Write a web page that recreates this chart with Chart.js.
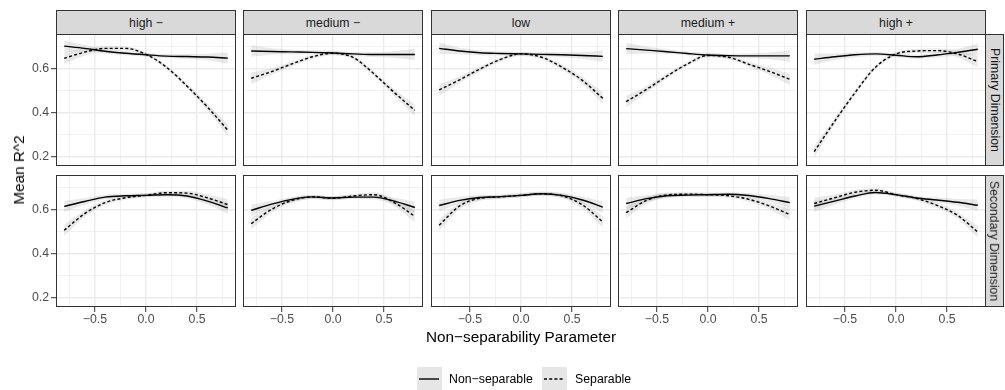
<!DOCTYPE html>
<html>
<head>
<meta charset="utf-8">
<script src="https://cdn.jsdelivr.net/npm/chart.js@4.4.0/dist/chart.umd.min.js"></script>
<style>
  body { margin: 0; background: #fff; font-family: "Liberation Sans", Arial, sans-serif; }
  #wrap { position: relative; width: 1005px; height: 390px; overflow: hidden; }
  canvas { position: absolute; }
  .strip { position: absolute; box-sizing: border-box; border: 1px solid #333; background: #d9d9d9;
           color: #1a1a1a; font-size: 12.3px; display: flex; align-items: center; justify-content: center; }
  .strip-right span { transform: rotate(90deg); white-space: nowrap; }
  .label { position: absolute; white-space: nowrap; color: #000; }
  .key { position: absolute; width: 25px; height: 23px; background: #e6e6e6; }
  .key svg { position: absolute; left: 0; top: 0; }
</style>
</head>
<body>
<div id="wrap"></div>
<script>
// x positions where the smoothed curves are sampled
var xValues = [-0.8, -0.6, -0.4, -0.2, 0.0, 0.2, 0.4, 0.6, 0.8];

var columnLabels = ["high \u2212", "medium \u2212", "low", "medium +", "high +"];
var rowLabels = ["Primary Dimension", "Secondary Dimension"];

// mean R^2, one array per column (high-, medium-, low, medium+, high+)
var primaryNonSeparable = [
    [0.700, 0.690, 0.677, 0.668, 0.661, 0.655, 0.653, 0.651, 0.646],
    [0.678, 0.676, 0.674, 0.672, 0.669, 0.665, 0.662, 0.662, 0.662],
    [0.690, 0.678, 0.670, 0.667, 0.665, 0.663, 0.661, 0.658, 0.654],
    [0.689, 0.682, 0.675, 0.667, 0.660, 0.657, 0.656, 0.656, 0.656],
    [0.641, 0.652, 0.661, 0.665, 0.659, 0.652, 0.660, 0.672, 0.686]
];
var primarySeparable = [
    [0.645, 0.673, 0.690, 0.690, 0.663, 0.605, 0.520, 0.425, 0.320],
    [0.555, 0.585, 0.620, 0.652, 0.668, 0.648, 0.575, 0.490, 0.410],
    [0.502, 0.548, 0.597, 0.640, 0.665, 0.650, 0.605, 0.545, 0.464],
    [0.449, 0.505, 0.565, 0.620, 0.658, 0.650, 0.618, 0.586, 0.550],
    [0.223, 0.360, 0.490, 0.605, 0.665, 0.678, 0.680, 0.665, 0.630]
];
var secondaryNonSeparable = [
    [0.613, 0.635, 0.655, 0.661, 0.663, 0.666, 0.660, 0.637, 0.606],
    [0.595, 0.623, 0.645, 0.656, 0.651, 0.655, 0.655, 0.637, 0.608],
    [0.617, 0.640, 0.653, 0.657, 0.663, 0.670, 0.663, 0.642, 0.610],
    [0.626, 0.648, 0.661, 0.664, 0.666, 0.668, 0.662, 0.648, 0.630],
    [0.614, 0.637, 0.660, 0.676, 0.666, 0.651, 0.642, 0.632, 0.618]
];
var secondarySeparable = [
    [0.505, 0.580, 0.630, 0.652, 0.663, 0.675, 0.673, 0.652, 0.621],
    [0.535, 0.600, 0.640, 0.656, 0.650, 0.660, 0.666, 0.630, 0.568],
    [0.528, 0.615, 0.650, 0.656, 0.663, 0.670, 0.661, 0.620, 0.543],
    [0.585, 0.640, 0.665, 0.668, 0.666, 0.661, 0.645, 0.615, 0.576],
    [0.626, 0.652, 0.677, 0.686, 0.666, 0.649, 0.618, 0.573, 0.497]
];
// half width of the confidence band around each smooth
var bandHalfWidth = [0.026, 0.015, 0.011, 0.009, 0.009, 0.009, 0.011, 0.015, 0.026];

var xTicks = [-0.75, -0.5, -0.25, 0, 0.25, 0.5, 0.75];
var xMajor = [-0.5, 0, 0.5];
var yTicks = [0.2, 0.3, 0.4, 0.5, 0.6, 0.7];
var yMajor = [0.2, 0.4, 0.6];

var xRange = [-0.88, 0.88];
var yRange = [0.158, 0.755];

// panel geometry
var colLeft = [56, 243, 431, 618, 806];
var rowTop = [34, 175];
var panelW = 180, panelH = 132;
var yAxisW = 40, xAxisH = 22;

var wrap = document.getElementById('wrap');
var font = '"Liberation Sans", Arial, sans-serif';
Chart.defaults.font.family = font;

function isIn(list, v) {
    return v !== undefined && list.some(function(m) { return Math.abs(m - v) < 1e-6; });
}
function fmt(v) {
    return v < 0 ? '\u2212' + Math.abs(v).toFixed(1) : v.toFixed(1);
}
function points(arr, offset) {
    return xValues.map(function(x, i) {
        return { x: x, y: arr[i] + (offset ? offset[i] : 0) };
    });
}
function neg(arr) { return arr.map(function(v) { return -v; }); }

// outline of the plotting area
var panelBorder = {
    id: 'panelBorder',
    afterDraw: function(chart) {
        var a = chart.chartArea, ctx = chart.ctx;
        ctx.save();
        ctx.strokeStyle = '#333333';
        ctx.lineWidth = 1;
        ctx.strokeRect(a.left + 0.5, a.top + 0.5, a.right - a.left - 1, a.bottom - a.top - 1);
        ctx.restore();
    }
};

function zeroPadding(scale) {
    scale.paddingTop = 0; scale.paddingBottom = 0;
    scale.paddingLeft = 0; scale.paddingRight = 0;
}

function makePanel(row, col, nonSep, sep) {
    var showY = col === 0, showX = row === 1;
    var canvas = document.createElement('canvas');
    var w = panelW + (showY ? yAxisW : 0);
    var h = panelH + (showX ? xAxisH : 0);
    canvas.width = w; canvas.height = h;
    canvas.style.left = (colLeft[col] - (showY ? yAxisW : 0)) + 'px';
    canvas.style.top = rowTop[row] + 'px';
    wrap.appendChild(canvas);

    var lineBase = { pointRadius: 0, fill: false, cubicInterpolationMode: 'monotone', borderColor: '#000', borderWidth: 1.4 };
    var bandBase = { pointRadius: 0, borderWidth: 0, cubicInterpolationMode: 'monotone', backgroundColor: 'rgba(153,153,153,0.22)' };

    new Chart(canvas.getContext('2d'), {
        type: 'line',
        data: {
            datasets: [
                Object.assign({ label: 'Non-separable', data: points(nonSep) }, lineBase),
                Object.assign({ label: 'Separable', data: points(sep), borderDash: [3, 2.2] }, lineBase),
                Object.assign({ data: points(nonSep, bandHalfWidth), fill: '+1' }, bandBase),
                Object.assign({ data: points(nonSep, neg(bandHalfWidth)), fill: false }, bandBase),
                Object.assign({ data: points(sep, bandHalfWidth), fill: '+1' }, bandBase),
                Object.assign({ data: points(sep, neg(bandHalfWidth)), fill: false }, bandBase)
            ]
        },
        options: {
            responsive: false,
            animation: false,
            devicePixelRatio: 1,
            layout: { padding: 0 },
            plugins: { legend: { display: false }, tooltip: { enabled: false } },
            scales: {
                x: {
                    type: 'linear',
                    min: xRange[0], max: xRange[1],
                    afterBuildTicks: function(scale) {
                        scale.ticks = xTicks.map(function(v) { return { value: v }; });
                    },
                    afterFit: function(scale) { scale.height = showX ? xAxisH : 0; zeroPadding(scale); },
                    border: { display: false },
                    grid: {
                        color: '#ebebeb',
                        lineWidth: function(c) { return isIn(xMajor, c.tick && c.tick.value) ? 1.4 : 0.7; },
                        drawTicks: showX,
                        tickLength: 5,
                        tickWidth: 1,
                        tickColor: function(c) { return isIn(xMajor, c.tick && c.tick.value) ? '#333333' : 'rgba(0,0,0,0)'; }
                    },
                    ticks: {
                        display: showX,
                        autoSkip: false,
                        maxRotation: 0,
                        padding: 0,
                        color: '#4d4d4d',
                        font: { size: 12.3 },
                        callback: function(v) { return isIn(xMajor, v) ? fmt(v) : ''; }
                    }
                },
                y: {
                    type: 'linear',
                    min: yRange[0], max: yRange[1],
                    afterBuildTicks: function(scale) {
                        scale.ticks = yTicks.map(function(v) { return { value: v }; });
                    },
                    afterFit: function(scale) { scale.width = showY ? yAxisW : 0; zeroPadding(scale); },
                    border: { display: false },
                    grid: {
                        color: '#ebebeb',
                        lineWidth: function(c) { return isIn(yMajor, c.tick && c.tick.value) ? 1.4 : 0.7; },
                        drawTicks: showY,
                        tickLength: 5,
                        tickWidth: 1,
                        tickColor: function(c) { return isIn(yMajor, c.tick && c.tick.value) ? '#333333' : 'rgba(0,0,0,0)'; }
                    },
                    ticks: {
                        display: showY,
                        autoSkip: false,
                        padding: 2,
                        color: '#4d4d4d',
                        font: { size: 12.3 },
                        callback: function(v) { return isIn(yMajor, v) ? fmt(v) : ''; }
                    }
                }
            }
        },
        plugins: [panelBorder]
    });
}

function addDiv(cls, style, html) {
    var d = document.createElement('div');
    d.className = cls;
    Object.assign(d.style, style);
    d.innerHTML = html;
    wrap.appendChild(d);
    return d;
}

for (var c = 0; c < 5; c++) {
    makePanel(0, c, primaryNonSeparable[c], primarySeparable[c]);
    makePanel(1, c, secondaryNonSeparable[c], secondarySeparable[c]);
    addDiv('strip', { left: colLeft[c] + 'px', top: '10px', width: panelW + 'px', height: '25px' }, columnLabels[c]);
}
for (var r = 0; r < 2; r++) {
    addDiv('strip strip-right', { left: (colLeft[4] + panelW - 1) + 'px', top: rowTop[r] + 'px', width: '19px', height: panelH + 'px' },
        '<span>' + rowLabels[r] + '</span>');
}

// axis titles
addDiv('label', { left: '19px', top: '170px', fontSize: '15.3px', transform: 'translate(-50%, -50%) rotate(-90deg)' }, 'Mean R^2');
addDiv('label', { left: '521px', top: '337px', fontSize: '15.3px', transform: 'translate(-50%, -50%)' }, 'Non\u2212separability Parameter');

// legend
var legendItems = [
    { label: 'Non\u2212separable', dash: '', keyLeft: 417, textLeft: 449 },
    { label: 'Separable', dash: '3 2.2', keyLeft: 542, textLeft: 575 }
];
legendItems.forEach(function(item) {
    addDiv('key', { left: item.keyLeft + 'px', top: '367px' },
        '<svg width="25" height="23"><line x1="2" y1="12" x2="22" y2="12" stroke="#000" stroke-width="1.4"' +
        (item.dash ? ' stroke-dasharray="' + item.dash + '"' : '') + '/></svg>');
    addDiv('label', { left: item.textLeft + 'px', top: '378.5px', fontSize: '12.3px', transform: 'translateY(-50%)' }, item.label);
});
</script>
</body>
</html>
